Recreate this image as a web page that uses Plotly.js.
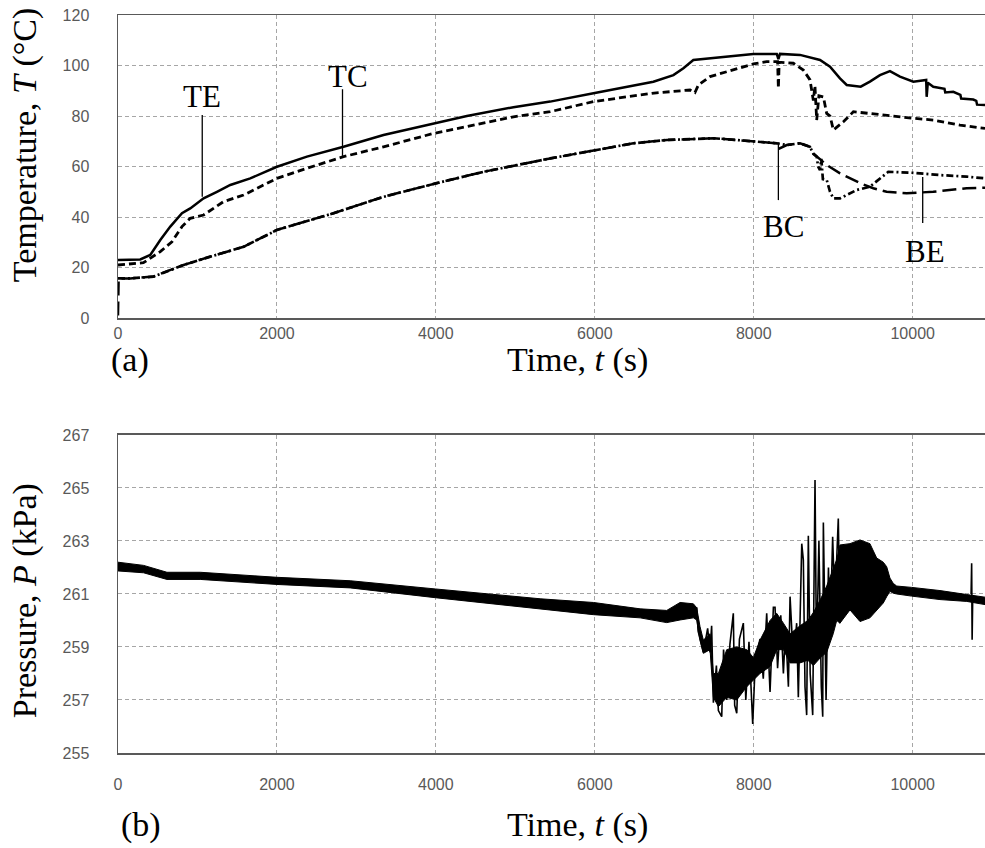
<!DOCTYPE html>
<html>
<head>
<meta charset="utf-8">
<script src="https://cdn.plot.ly/plotly-3.0.1.min.js"></script>
<style>html,body{margin:0;padding:0;background:#fff;}#chart{width:985px;height:848px;}</style>
</head>
<body>
<div id="chart"></div>
<script>
// ---- Temperature data (a) ----
const teTime = [0, 280, 406, 532, 658, 805, 909, 1077, 1245, 1413, 1664, 2000, 2377, 2838, 3341, 3970, 4390, 4976, 5438, 5983, 6737, 6989, 7115, 7240, 7450, 7786, 7995, 8290, 8310, 8330, 8582, 8834, 8960, 9085, 9170, 9346, 9462, 9588, 9714, 9840, 10008, 10170, 10176, 10190, 10259, 10400, 10410, 10511, 10600, 10610, 10762, 10800, 10810, 10910];
const teVal  = [23.0, 23.2, 25.0, 30.9, 36.2, 41.5, 43.4, 47.4, 50.0, 52.7, 55.3, 59.9, 63.9, 67.8, 72.5, 77.1, 80.0, 83.5, 85.7, 89.0, 93.6, 96.2, 98.9, 102.2, 102.8, 103.8, 104.6, 104.6, 102.5, 104.6, 104.2, 102.2, 99.5, 94.9, 92.3, 91.6, 93.6, 96.2, 97.8, 95.6, 93.6, 94.3, 87.6, 93.2, 91.6, 90.8, 89.3, 89.6, 88.4, 86.9, 86.5, 86.0, 84.5, 84.4];

const tcTime = [0, 320, 532, 679, 805, 909, 1077, 1328, 1580, 1832, 2000, 2377, 2838, 3341, 3970, 4390, 4976, 5438, 5983, 6717, 7199, 7260, 7304, 7450, 7743, 7995, 8163, 8300, 8310, 8320, 8498, 8624, 8708, 8750, 8770, 8792, 8820, 8876, 8918, 8960, 9002, 9128, 9254, 9421, 9672, 10008, 10259, 10595, 10910];
const tcVal  = [21.0, 21.9, 26.3, 30.2, 36.2, 39.5, 40.8, 46.1, 48.7, 52.7, 55.3, 59.3, 63.9, 67.8, 73.1, 75.8, 79.7, 81.7, 85.7, 89.0, 90.3, 89.3, 92.3, 95.6, 98.2, 100.6, 101.5, 101.5, 91.0, 101.3, 100.9, 98.2, 94.3, 86.1, 92.0, 78.4, 88.0, 87.6, 81.0, 80.0, 74.5, 77.7, 81.7, 81.1, 80.4, 79.1, 78.4, 76.4, 75.1];

const beTime = [0, 155, 448, 595, 825, 1161, 1580, 1916, 2000, 2712, 3341, 3995, 4599, 5438, 5983, 6486, 6905, 7492, 7786, 7995, 8289, 8415, 8582, 8708, 8750, 8792, 8810, 8834, 8850, 8870, 8918, 8960, 9002, 9086, 9296, 9462, 9588, 9693, 10008, 10343, 10679, 10910];
const beVal  = [15.7, 15.7, 16.4, 18.3, 21.0, 24.3, 28.2, 33.5, 34.9, 41.5, 48.0, 53.3, 57.9, 63.2, 66.2, 69.2, 70.5, 71.2, 70.5, 70.0, 69.2, 68.5, 69.2, 67.8, 65.0, 63.9, 60.0, 58.6, 63.0, 55.0, 54.7, 50.0, 47.4, 47.4, 50.7, 52.0, 55.3, 57.9, 57.5, 56.6, 56.0, 55.3];

const bcTime = [0, 8, 155, 448, 595, 825, 1161, 1580, 1916, 2000, 2712, 3341, 3995, 4599, 5438, 5983, 6486, 6905, 7492, 7786, 7995, 8289, 8327, 8415, 8582, 8708, 8750, 8918, 9086, 9346, 9505, 9672, 9924, 10259, 10679, 10910];
const bcVal  = [1.0, 15.7, 15.7, 16.4, 18.3, 21.0, 24.3, 28.2, 33.5, 34.9, 41.5, 48.0, 53.3, 57.9, 63.2, 66.2, 69.2, 70.5, 71.2, 70.5, 70.0, 69.2, 67.2, 68.5, 69.2, 67.8, 65.2, 60.6, 57.3, 53.3, 51.4, 50.0, 49.4, 50.0, 51.4, 51.6];

// ---- Pressure data (b): band envelope + large oscillation peaks ----
const pTime = [0, 322, 616, 1035, 2000, 2922, 3995, 4599, 5312, 5983, 6570, 6905, 7073, 7240, 7282, 7324, 7366, 7450, 7492, 7555, 7660, 7786, 7912, 7995, 8079, 8205, 8289, 8373, 8457, 8582, 8680, 8750, 8840, 8918, 9000, 9044, 9085, 9211, 9337, 9462, 9547, 9630, 9673, 9714, 9756, 9799, 9987, 10343, 10680, 10910];
const pHigh = [262.20, 262.08, 261.82, 261.82, 261.63, 261.50, 261.19, 261.01, 260.82, 260.68, 260.44, 260.38, 260.68, 260.63, 260.48, 259.77, 259.26, 259.50, 258.00, 258.00, 258.90, 259.00, 258.90, 258.60, 259.26, 260.00, 260.27, 259.90, 259.50, 259.80, 260.00, 260.30, 260.80, 261.30, 262.00, 262.30, 262.85, 262.90, 263.04, 262.90, 262.36, 262.20, 262.03, 261.60, 261.40, 261.30, 261.25, 261.13, 260.98, 260.88];
const pLow  = [261.87, 261.80, 261.55, 261.55, 261.36, 261.23, 260.86, 260.67, 260.42, 260.22, 260.10, 259.92, 260.02, 260.10, 260.02, 259.26, 258.76, 258.90, 257.10, 256.75, 257.10, 257.00, 257.50, 257.75, 258.00, 258.26, 258.90, 258.90, 258.40, 258.40, 258.50, 258.30, 258.60, 258.80, 259.50, 260.00, 259.90, 260.40, 259.96, 260.10, 260.40, 260.66, 260.90, 261.10, 261.03, 261.00, 260.92, 260.79, 260.72, 260.60];
const pPeakTime = [7282, 7300, 7366, 7420, 7450, 7470, 7492, 7530, 7555, 7597, 7620, 7660, 7700, 7743, 7760, 7786, 7820, 7869, 7900, 7940, 7987, 8020, 8079, 8120, 8163, 8205, 8247, 8268, 8300, 8340, 8373, 8400, 8436, 8457, 8500, 8540, 8561, 8604, 8624, 8645, 8666, 8687, 8710, 8742, 8771, 8790, 8820, 8850, 8868, 8876, 8910, 8940, 8960, 8993, 9020, 9064, 9085, null, 10735, 10742, 10748, 10755];
const pPeakVal  = [260.5, 259.6, 258.8, 259.7, 258.8, 259.8, 256.9, 258.3, 256.6, 256.37, 258.9, 257.0, 259.1, 260.27, 256.8, 256.5, 259.3, 259.9, 257.0, 259.2, 256.1, 258.5, 259.3, 257.8, 260.27, 257.3, 260.5, 260.5, 258.2, 260.2, 258.0, 259.7, 257.5, 260.9, 258.4, 259.9, 257.1, 262.9, 262.28, 257.5, 256.43, 263.2, 258.0, 256.43, 265.3, 258.5, 263.0, 257.5, 256.37, 263.7, 257.0, 262.0, 259.4, 263.16, 260.5, 263.85, 259.9, null, 261.0, 262.16, 259.27, 260.8];

// ---- Axis ticks ----
const tTicks = [0, 2000, 4000, 6000, 8000, 10000];
const tempTicks = [0, 20, 40, 60, 80, 100, 120];
const presTicks = [255, 257, 259, 261, 263, 265, 267];

// ---- Curve labels ----
const labelNames = ['TE', 'TC', 'BC', 'BE'];
const labelT = [1056, 2897, 8373, 10155];
const labelV = [87.9, 95.8, 36.4, 26.3];
const leaderT = [1060, 2825, 8310, 10126];
const leaderTop = [80.4, 90.6, 69.5, 55.8];
const leaderBottom = [48.0, 64.2, 46.7, 37.6];

const black = '#000000';
const traces = [
  {x: teTime, y: teVal, xaxis: 'x', yaxis: 'y', mode: 'lines', name: 'TE', line: {color: black, width: 2.5}},
  {x: tcTime, y: tcVal, xaxis: 'x', yaxis: 'y', mode: 'lines', name: 'TC', line: {color: black, width: 2.8, dash: '7px,4px'}},
  {x: beTime, y: beVal, xaxis: 'x', yaxis: 'y', mode: 'lines', name: 'BE', line: {color: black, width: 2.7, dash: '7px,3px,2px,3px'}},
  {x: bcTime, y: bcVal, xaxis: 'x', yaxis: 'y', mode: 'lines', name: 'BC', line: {color: black, width: 2.5, dash: '14px,6px'}},
  {x: pTime, y: pHigh, xaxis: 'x2', yaxis: 'y2', mode: 'lines', name: 'P high', line: {color: black, width: 1}},
  {x: pTime, y: pLow, xaxis: 'x2', yaxis: 'y2', mode: 'lines', name: 'P low', fill: 'tonexty', fillcolor: black, line: {color: black, width: 1}},
  {x: pPeakTime, y: pPeakVal, xaxis: 'x2', yaxis: 'y2', mode: 'lines', name: 'P peaks', line: {color: black, width: 1.6}}
];

const serif = 'Liberation Serif, Times New Roman, serif';
const tickFont = {family: 'Liberation Sans, Arial, sans-serif', size: 16, color: '#595959'};
const frame = '#595959';
const gridC = '#a6a6a6';

function xAx(anchor, standoff) {
  return {anchor: anchor, range: [0, 10910], tickvals: tTicks, ticktext: tTicks.map(String),
    showgrid: true, gridcolor: gridC, griddash: '4px,3px', gridwidth: 1, zeroline: false,
    showline: true, mirror: true, linecolor: frame, linewidth: 1.5,
    ticks: 'outside', ticklen: 0, tickcolor: 'rgba(0,0,0,0)', ticklabelstandoff: standoff, tickfont: tickFont, fixedrange: true};
}
function yAx(anchor, domain, range, vals) {
  return {anchor: anchor, domain: domain, range: range, tickvals: vals, ticktext: vals.map(String),
    showgrid: true, gridcolor: gridC, griddash: '4px,3px', gridwidth: 1, zeroline: false,
    showline: true, mirror: false, linecolor: frame, linewidth: 1.5,
    ticks: 'outside', ticklen: 0, tickcolor: 'rgba(0,0,0,0)', ticklabelstandoff: 24, tickfont: tickFont, fixedrange: true};
}

const annotations = [];
const shapes = [];
labelNames.forEach((n, i) => {
  annotations.push({xref: 'x', yref: 'y', x: labelT[i], y: labelV[i], text: n, showarrow: false,
    font: {family: serif, size: 31, color: black}, xanchor: 'center', yanchor: 'middle'});
  shapes.push({type: 'line', xref: 'x', yref: 'y', x0: leaderT[i], x1: leaderT[i], y0: leaderTop[i], y1: leaderBottom[i],
    line: {color: black, width: 1.3}});
});
const titleFont = {family: serif, size: 34, color: black};
annotations.push(
  {xref: 'paper', yref: 'paper', x: 0.530, y: 0.5325, text: 'Time, <i>t</i> (s)', showarrow: false, font: titleFont, xanchor: 'center', yanchor: 'middle'},
  {xref: 'paper', yref: 'paper', x: 0.530, y: -0.0976, text: 'Time, <i>t</i> (s)', showarrow: false, font: titleFont, xanchor: 'center', yanchor: 'middle'},
  {xref: 'paper', yref: 'paper', x: 0.014, y: 0.5325, text: '(a)', showarrow: false, font: titleFont, xanchor: 'center', yanchor: 'middle'},
  {xref: 'paper', yref: 'paper', x: 0.026, y: -0.0976, text: '(b)', showarrow: false, font: titleFont, xanchor: 'center', yanchor: 'middle'},
  {xref: 'paper', yref: 'paper', x: -0.107, y: 0.8238, text: 'Temperature, <i>T</i> (°C)', showarrow: false, font: titleFont, textangle: -90, xanchor: 'center', yanchor: 'middle'},
  {xref: 'paper', yref: 'paper', x: -0.107, y: 0.206, text: 'Pressure, <i>P</i> (kPa)', showarrow: false, font: titleFont, textangle: -90, xanchor: 'center', yanchor: 'middle'}
);

const layout = {
  width: 985, height: 848,
  margin: {l: 117.7, r: 0, t: 15, b: 95},
  paper_bgcolor: '#ffffff', plot_bgcolor: '#ffffff',
  showlegend: false,
  xaxis: xAx('y', 0),
  yaxis: yAx('x', [0.5894, 1], [0, 120], tempTicks),
  xaxis2: xAx('y2', 16),
  yaxis2: yAx('x2', [0, 0.4309], [255, 267], presTicks),
  annotations: annotations,
  shapes: shapes
};
Plotly.newPlot('chart', traces, layout, {displayModeBar: false, staticPlot: true});
</script>
</body>
</html>
